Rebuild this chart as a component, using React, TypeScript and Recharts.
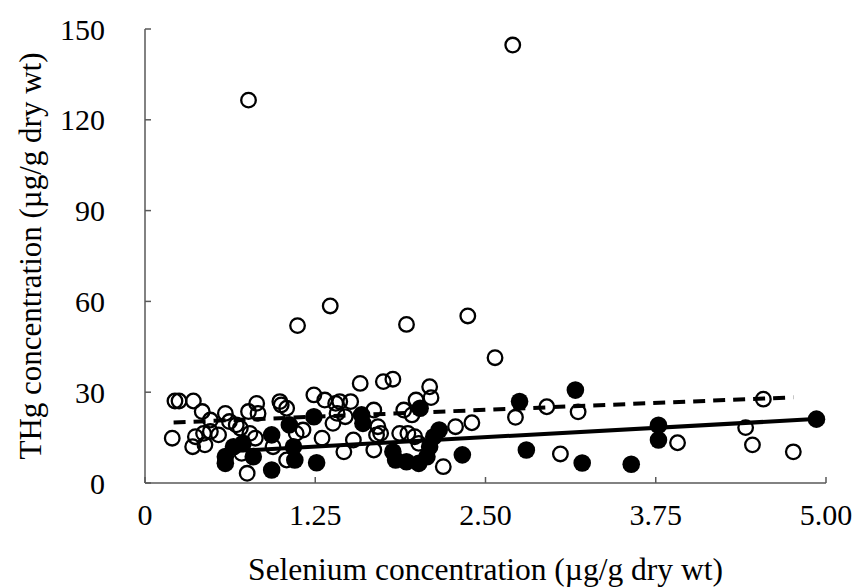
import React from "react";
import {
  ScatterChart,
  Scatter,
  XAxis,
  YAxis,
  ReferenceLine,
} from "recharts";

// open circles (Se, THg)
const openSe = [
  2.7, 0.76, 1.36, 1.12, 1.92, 2.37, 2.57, 0.22, 0.25, 0.355, 0.2, 0.42, 0.48,
  0.37, 0.35, 0.44, 0.43, 0.48, 0.54, 0.59, 0.62, 0.67, 0.7, 0.76, 0.82, 0.83,
  0.77, 0.81, 0.75, 0.99, 1.0, 1.04, 1.04, 1.16, 1.24, 1.32, 1.4, 1.38, 1.3,
  0.94, 0.71, 1.11, 1.58, 1.75, 1.82, 2.09, 2.1, 1.99, 1.9, 1.96, 1.43, 1.51,
  1.41, 1.47, 1.68, 1.71, 1.7, 1.73, 1.53, 1.46, 1.68, 1.87, 1.93, 1.98, 2.01,
  2.28, 2.4, 2.19, 2.72, 2.95, 3.18, 3.05, 3.91, 4.41, 4.46, 4.54, 4.76,
];
const openHg = [
  144.7, 126.5, 58.5, 52.0, 52.4, 55.2, 41.4, 27.1, 27.1, 27.1, 14.8, 23.6,
  20.8, 15.3, 12.0, 12.6, 16.4, 17.0, 15.9, 23.0, 20.3, 19.2, 18.1, 23.6, 26.3,
  23.0, 16.4, 14.8, 3.2, 26.9, 25.8, 24.7, 7.6, 17.5, 29.1, 27.4, 26.3, 19.7,
  14.8, 12.0, 9.8, 16.4, 32.9, 33.5, 34.3, 31.8, 28.2, 27.4, 24.1, 22.5, 26.9,
  26.9, 23.0, 21.9, 24.1, 18.6, 15.9, 16.4, 14.2, 10.3, 10.9, 16.4, 16.4, 15.3,
  13.1, 18.6, 19.9, 5.4, 21.7, 25.2, 23.5, 9.6, 13.3, 18.3, 12.6, 27.7, 10.3,
];

// filled circles (Se, THg)
const filledSe = [
  0.59, 0.59, 0.65, 0.72, 0.795, 0.93, 0.93, 1.06, 1.1, 1.09, 1.24, 1.26, 1.59,
  1.6, 1.82, 1.84, 1.92, 2.01, 2.07, 2.09, 2.12, 2.16, 2.02, 2.33, 2.75, 2.8,
  3.16, 3.21, 3.57, 3.77, 3.77, 4.93,
];
const filledHg = [
  6.5, 8.7, 12.0, 13.1, 8.7, 4.3, 15.9, 19.2, 7.6, 12.0, 21.9, 6.7, 22.5, 19.7,
  10.3, 7.6, 7.0, 6.5, 8.7, 12.0, 15.3, 17.5, 24.7, 9.3, 26.9, 10.9, 30.7, 6.6,
  6.2, 19.1, 14.2, 21.1,
];

// trend lines: [start, end]
const openTrendSe = [0.21, 4.76];
const openTrendHg = [20.0, 28.3];
const filledTrendSe = [0.55, 4.95];
const filledTrendHg = [10.3, 21.2];

const xTicks = [0, 1.25, 2.5, 3.75, 5];
const xTickLabels = ["0", "1.25", "2.50", "3.75", "5.00"];
const yTicks = [0, 30, 60, 90, 120, 150];

const openData = openSe.map((x, i) => ({ x, y: openHg[i] }));
const filledData = filledSe.map((x, i) => ({ x, y: filledHg[i] }));

const FONT = "Liberation Serif, Times New Roman, serif";
const AXIS = "#595959";

function OpenDot(props: any) {
  const { cx, cy } = props;
  return <circle cx={cx} cy={cy} r={7.3} fill="none" stroke="#000" strokeWidth={2.3} />;
}

function FilledDot(props: any) {
  const { cx, cy } = props;
  return <circle cx={cx} cy={cy} r={8.8} fill="#000" />;
}

function XTick(props: any) {
  const { x, y, payload } = props;
  return (
    <text x={x} y={y} dy="0.71em" textAnchor="middle" fill="#000"
      style={{ fontFamily: FONT, fontSize: 30 }}>
      {xTickLabels[xTicks.indexOf(payload.value)]}
    </text>
  );
}

function YTick(props: any) {
  const { x, y, payload } = props;
  return (
    <text x={x} y={y} dy="0.355em" textAnchor="end" fill="#000"
      style={{ fontFamily: FONT, fontSize: 30 }}>
      {payload.value}
    </text>
  );
}

export default function App() {
  return (
    <div style={{ position: "absolute", left: 0, top: 0, background: "#fff", fontFamily: FONT }}>
      <ScatterChart
        width={854}
        height={588}
        margin={{ top: 29, right: 28, bottom: 0, left: 0 }}
      >
        <XAxis
          type="number"
          dataKey="x"
          domain={[0, 5]}
          ticks={xTicks}
          height={105}
          stroke={AXIS}
          strokeWidth={1.5}
          tickSize={-6}
          tickMargin={27}
          tick={<XTick />}
          label={{
            value: "Selenium concentration (µg/g dry wt)",
            position: "insideBottom",
            offset: 8,
            style: { fontSize: 31.5, fill: "#000", fontFamily: FONT },
          }}
        />
        <YAxis
          type="number"
          dataKey="y"
          domain={[0, 150]}
          ticks={yTicks}
          width={145}
          stroke={AXIS}
          strokeWidth={1.5}
          tickSize={-6}
          tickMargin={46}
          tick={<YTick />}
          label={{
            value: "THg concentration (µg/g dry wt)",
            angle: -90,
            position: "insideLeft",
            offset: 30,
            style: { fontSize: 31, fill: "#000", fontFamily: FONT, textAnchor: "middle" },
          }}
        />
        <Scatter data={openData} shape={<OpenDot />} isAnimationActive={false} />
        <Scatter data={filledData} shape={<FilledDot />} isAnimationActive={false} />
        <ReferenceLine
          segment={[
            { x: openTrendSe[0], y: openTrendHg[0] },
            { x: openTrendSe[1], y: openTrendHg[1] },
          ]}
          stroke="#000"
          strokeWidth={4}
          strokeDasharray="12 8"
        />
        <ReferenceLine
          segment={[
            { x: filledTrendSe[0], y: filledTrendHg[0] },
            { x: filledTrendSe[1], y: filledTrendHg[1] },
          ]}
          stroke="#000"
          strokeWidth={4}
        />
      </ScatterChart>
    </div>
  );
}
